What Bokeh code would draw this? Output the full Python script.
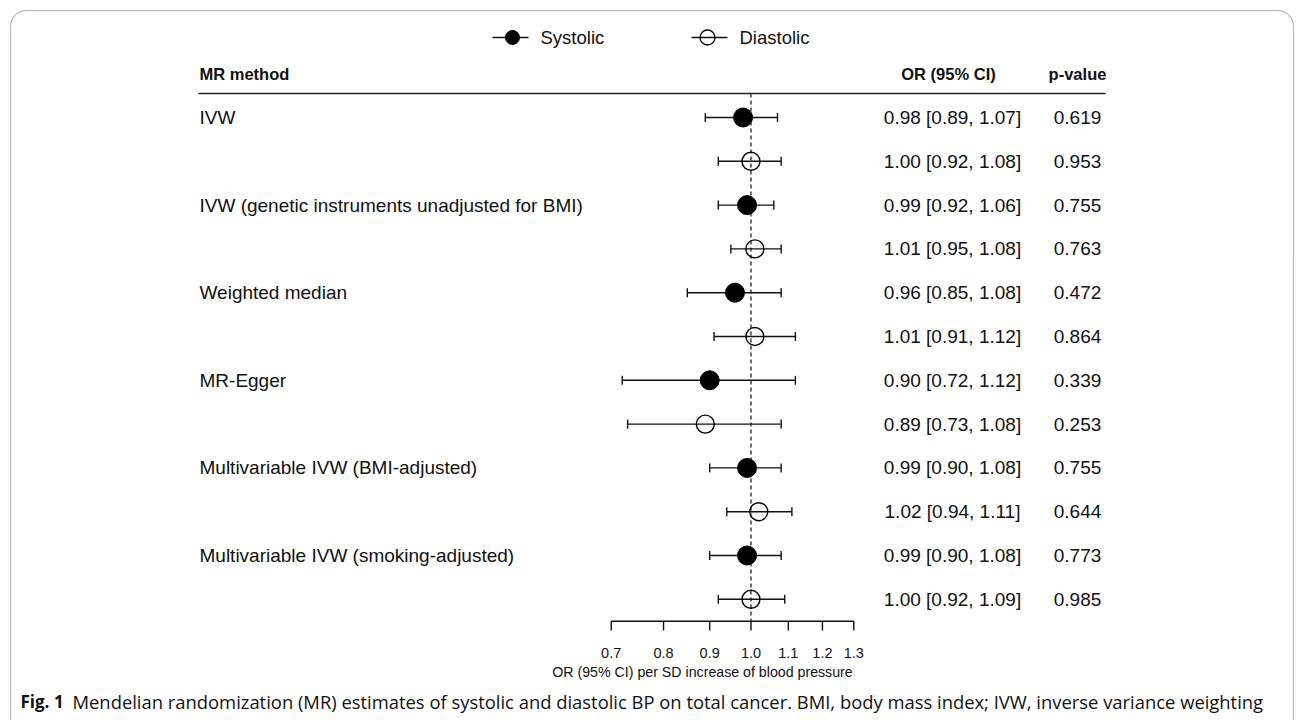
import math
from bokeh.plotting import figure
from bokeh.models import Range1d, LogScale, BoxAnnotation, ColumnDataSource
from bokeh.core.properties import value
from bokeh.embed import file_html
from bokeh.resources import INLINE

# ---------------- data ----------------
methods = ["IVW", "IVW (genetic instruments unadjusted for BMI)", "Weighted median",
           "MR-Egger", "Multivariable IVW (BMI-adjusted)", "Multivariable IVW (smoking-adjusted)"]
sys_or = [0.98, 0.99, 0.96, 0.90, 0.99, 0.99]
sys_lo = [0.89, 0.92, 0.85, 0.72, 0.90, 0.90]
sys_hi = [1.07, 1.06, 1.08, 1.12, 1.08, 1.08]
sys_p = ["0.619", "0.755", "0.472", "0.339", "0.755", "0.773"]
dia_or = [1.00, 1.01, 1.01, 0.89, 1.02, 1.00]
dia_lo = [0.92, 0.95, 0.91, 0.73, 0.94, 0.92]
dia_hi = [1.08, 1.08, 1.12, 1.08, 1.11, 1.09]
dia_p = ["0.953", "0.763", "0.864", "0.253", "0.644", "0.985"]
tick_vals = [0.7, 0.8, 0.9, 1.0, 1.1, 1.2, 1.3]
tick_labels = ["0.7", "0.8", "0.9", "1.0", "1.1", "1.2", "1.3"]
series_names = ["Systolic", "Diastolic"]
col_headers = ["MR method", "OR (95% CI)", "p-value"]
axis_title = "OR (95% CI) per SD increase of blood pressure"
caption_bold = "Fig. 1"
caption_text = ("Mendelian randomization (MR) estimates of systolic and diastolic BP on total cancer. "
                "BMI, body mass index; IVW, inverse variance weighting")

# ---------------- layout ----------------
W, H = 1296, 720
def X(px):
    return px
def Y(py):
    return H - py

FONT = value("Liberation Sans")
CAPFONT = value("Open Sans")
INK = "#111111"

# log scale anchored so 0.7 and 1.3 land at the axis ends
ax_left, ax_right = 610.7, 853.3
k = (ax_right - ax_left) / (math.log(1.3) - math.log(0.7))
x0 = X(ax_left) - k * math.log(0.7)
or_start = math.exp(-x0 / k)
or_end = math.exp((W - x0) / k)

row_top, row_step = 117.0, 43.8
r_first = Y(row_top)
rows_start = r_first / row_step            # row index at bottom of canvas
rows_end = (r_first - H) / row_step        # row index at top of canvas

p = figure(width=W, height=H, x_range=Range1d(0, W), y_range=Range1d(0, H),
           x_axis_type=None, y_axis_type=None, output_backend="svg",
           toolbar_location=None, outline_line_color=None,
           min_border=0, min_border_left=0, min_border_right=0,
           min_border_top=0, min_border_bottom=0, background_fill_color="white",
           border_fill_color="white")
p.extra_x_ranges = {"or": Range1d(or_start, or_end)}
p.extra_x_scales = {"or": LogScale()}
p.extra_y_ranges = {"rows": Range1d(rows_start, rows_end)}

# rounded frame
p.add_layout(BoxAnnotation(left=X(10), right=X(1293), top=Y(10), bottom=Y(760),
                           fill_alpha=0, line_color="#333333", line_width=1.4,
                           border_radius=16))

# ---------------- table data ----------------
n = len(methods)
rows_s = [2 * i for i in range(n)]
rows_d = [2 * i + 1 for i in range(n)]
fmt = lambda o, l, h: f"{o:.2f} [{l:.2f}, {h:.2f}]"
src_s = ColumnDataSource(dict(row=rows_s, est=sys_or, lo=sys_lo, hi=sys_hi,
                              ci=[fmt(o, l, h) for o, l, h in zip(sys_or, sys_lo, sys_hi)],
                              pv=sys_p, label=methods))
src_d = ColumnDataSource(dict(row=rows_d, est=dia_or, lo=dia_lo, hi=dia_hi,
                              ci=[fmt(o, l, h) for o, l, h in zip(dia_or, dia_lo, dia_hi)],
                              pv=dia_p))

# header
p.text(x=[X(199)], y=[Y(73)], text=[col_headers[0]], text_font=FONT, text_font_style="bold",
       text_font_size="16.5px", text_baseline="middle", text_align="left", text_color=INK)
p.text(x=[X(948)], y=[Y(73)], text=[col_headers[1]], text_font=FONT, text_font_style="bold",
       text_font_size="16.5px", text_baseline="middle", text_align="center", text_color=INK)
p.text(x=[X(1077)], y=[Y(73)], text=[col_headers[2]], text_font=FONT, text_font_style="bold",
       text_font_size="16.5px", text_baseline="middle", text_align="center", text_color=INK)
p.segment(x0=[X(198)], x1=[X(1105)], y0=[Y(93)], y1=[Y(93)], line_color="#222222", line_width=1.3)

# reference line at OR = 1
p.segment(x0=[1.0], x1=[1.0], y0=[Y(93)], y1=[Y(620.7)], x_range_name="or",
          line_color="#222222", line_width=1.3, line_dash="4 3")

# row labels and values
for src, has_label in ((src_s, True), (src_d, False)):
    if has_label:
        p.text(x=X(199), y="row", text="label", source=src, y_range_name="rows",
               text_font=FONT, text_font_size="19px", text_baseline="middle",
               text_align="left", text_color=INK)
    p.text(x=X(952), y="row", text="ci", source=src, y_range_name="rows",
           text_font=FONT, text_font_size="19px", text_baseline="middle",
           text_align="center", text_color=INK)
    p.text(x=X(1077), y="row", text="pv", source=src, y_range_name="rows",
           text_font=FONT, text_font_size="19px", text_baseline="middle",
           text_align="center", text_color=INK)
    p.segment(x0="lo", x1="hi", y0="row", y1="row", source=src, x_range_name="or",
              y_range_name="rows", line_color="#111111", line_width=1.4)
    for c in ("lo", "hi"):
        p.scatter(x=c, y="row", source=src, x_range_name="or", y_range_name="rows",
                  marker="dash", angle=math.pi / 2, size=9, line_color="#111111",
                  line_width=1.4)

p.scatter(x="est", y="row", source=src_s, x_range_name="or", y_range_name="rows",
          marker="circle", size=19, fill_color="black", line_color="black")
p.scatter(x="est", y="row", source=src_d, x_range_name="or", y_range_name="rows",
          marker="circle", size=18, fill_alpha=0, line_color="black", line_width=1.4)

# axis
p.segment(x0=[tick_vals[0]], x1=[tick_vals[-1]], y0=[Y(620.7)], y1=[Y(620.7)],
          x_range_name="or", line_color="#111111", line_width=1.4)
p.segment(x0=tick_vals, x1=tick_vals, y0=[Y(620.7)] * len(tick_vals), y1=[Y(630)] * len(tick_vals),
          x_range_name="or", line_color="#111111", line_width=1.4)
p.text(x=tick_vals, y=[Y(652)] * len(tick_vals), text=tick_labels, x_range_name="or",
       text_font=FONT, text_font_size="14.5px", text_baseline="middle", text_align="center",
       text_color=INK)
p.text(x=[X(702)], y=[Y(671)], text=[axis_title], text_font=FONT, text_font_size="14.2px",
       text_baseline="middle", text_align="center", text_color=INK)

# legend
p.segment(x0=[X(492), X(691)], x1=[X(528), X(727)], y0=[Y(37)] * 2, y1=[Y(37)] * 2,
          line_color="#111111", line_width=1.4)
p.scatter(x=[X(512)], y=[Y(37)], marker="circle", size=14, fill_color="black", line_color="black")
p.scatter(x=[X(707)], y=[Y(37)], marker="circle", size=15, fill_alpha=0, line_color="black",
          line_width=1.3)
p.text(x=[X(540), X(739)], y=[Y(37)] * 2, text=series_names, text_font=FONT,
       text_font_size="18.5px", text_baseline="middle", text_align="left", text_color=INK)

# caption
p.text(x=[X(20)], y=[Y(701)], text=[caption_bold], text_font=CAPFONT, text_font_style="bold",
       text_font_size="17px", text_baseline="middle", text_align="left", text_color="#111111")
p.text(x=[X(72)], y=[Y(701)], text=[caption_text], text_font=CAPFONT,
       text_font_size="18.4px", text_baseline="middle", text_align="left", text_color="#111111")

open("out.html", "w").write(file_html(p, INLINE))
